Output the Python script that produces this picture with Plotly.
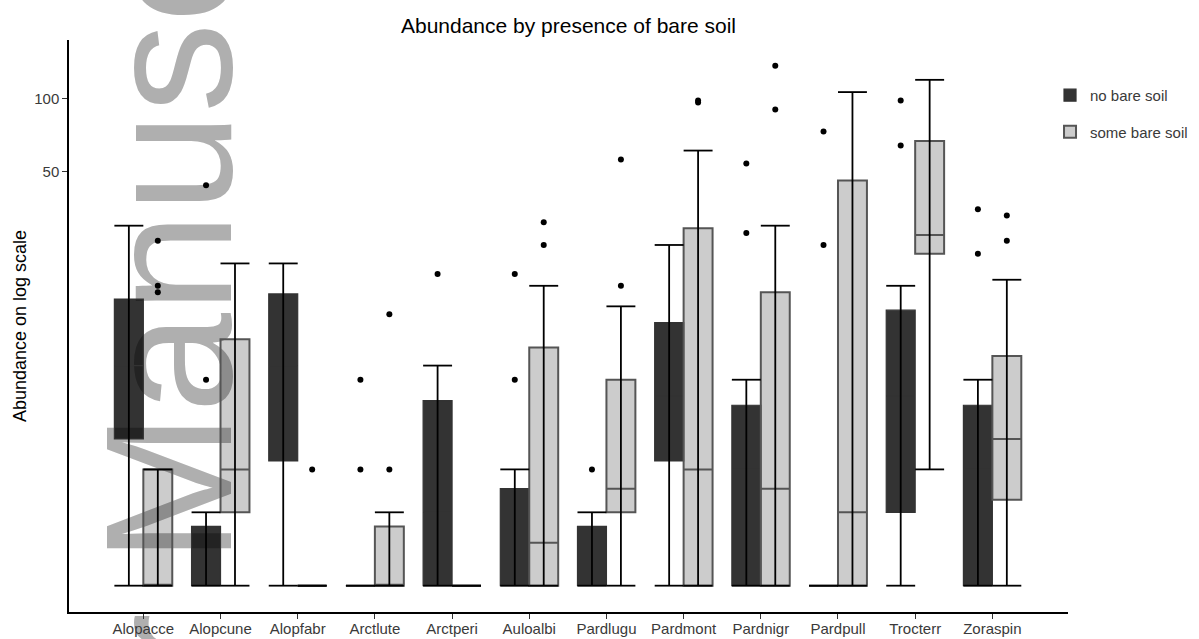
import plotly.graph_objects as go

categories = ["Alopacce", "Alopcune", "Alopfabr", "Arctlute", "Arctperi", "Auloalbi",
              "Pardlugu", "Pardmont", "Pardnigr", "Pardpull", "Trocterr", "Zoraspin"]

# group 1: no bare soil
nb_q1 = [4, 1, 3.25, 1, 1, 1, 1, 3.25, 1, 1, 2, 1]
nb_med = [8, 1, 8, 1, 2, 1, 1, 6, 3, 1, 6, 3]
nb_q3 = [15, 1.75, 15.75, 1, 5.75, 2.5, 1.75, 12, 5.5, 1, 13.5, 5.5]
nb_lo = [1, 1, 1, 1, 1, 1, 1, 1, 1, 1, 1, 1]
nb_hi = [30, 2, 21, 1, 8, 3, 2, 25, 7, 1, 17, 7]
nb_out = [[], [7, 44], [], [3, 7], [19], [7, 19], [3], [], [28, 54], [25, 73], [64, 98], [23, 35]]

# group 2: some bare soil
sb_q1 = [1, 2, 1, 1, 1, 1, 2, 1, 1, 1, 23, 2.25]
sb_med = [1, 3, 1, 1, 1, 1.5, 2.5, 3, 2.5, 2, 27.5, 4]
sb_q3 = [3, 10.25, 1, 1.75, 1, 9.5, 7, 29.25, 16, 46, 66.75, 8.75]
sb_lo = [1, 1, 1, 1, 1, 1, 1, 1, 1, 1, 3, 1]
sb_hi = [3, 21, 1, 2, 1, 17, 14, 61, 30, 106, 119, 18]
sb_out = [[16, 17, 26], [], [3], [3, 13], [], [25, 31], [17, 56], [96, 98], [90, 136], [], [], [26, 33]]

y_tick_vals = [50, 100]
y_tick_text = ["50", "100"]

FONT = "Liberation Sans, Arial, Helvetica, sans-serif"
DODGE = 0.1875
BW = 0.375

positions = list(range(1, len(categories) + 1))

fig = go.Figure()

groups = [
    ("no bare soil", -DODGE, nb_q1, nb_med, nb_q3, nb_lo, nb_hi, nb_out,
     "rgba(0,0,0,0.8)", "#333333", 1.2),
    ("some bare soil", DODGE, sb_q1, sb_med, sb_q3, sb_lo, sb_hi, sb_out,
     "rgba(0,0,0,0.2)", "#555555", 2.0),
]

for gi, (name, off, q1, med, q3, lo, hi, outs, fill, lcol, lw) in enumerate(groups):
    xs = [p + off for p in positions]
    fig.add_trace(go.Box(
        name=name, x=xs, q1=q1, median=med, q3=q3,
        lowerfence=q1, upperfence=q3, width=BW, whiskerwidth=0,
        fillcolor=fill, line=dict(color=lcol, width=lw),
        boxpoints=False, orientation="v", legendgroup=name,
        showlegend=True, hoverinfo="skip",
    ))

for gi, (name, off, q1, med, q3, lo, hi, outs, fill, lcol, lw) in enumerate(groups):
    ex, ey = [], []
    for p, l, h in zip(positions, lo, hi):
        x = p + off
        ex += [x - BW / 2, x + BW / 2, None, x, x, None, x - BW / 2, x + BW / 2, None]
        ey += [h, h, None, h, l, None, l, l, None]
    fig.add_trace(go.Scatter(x=ex, y=ey, mode="lines",
                             line=dict(color="black", width=1.8),
                             showlegend=False, hoverinfo="skip"))
    ox, oy = [], []
    for p, o in zip(positions, outs):
        for v in o:
            ox.append(p + off)
            oy.append(v)
    fig.add_trace(go.Scatter(x=ox, y=oy, mode="markers",
                             marker=dict(color="black", size=6),
                             showlegend=False, hoverinfo="skip"))

# watermark
fig.add_shape(type="rect", xref="paper", yref="paper",
              x0=0.078, x1=0.088, y0=0.343, y1=0.353,
              line=dict(width=0), fillcolor="rgba(0,0,0,0)", layer="below",
              label=dict(text="Author Manuscript", textangle=-90,
                         textposition="middle center",
                         font=dict(size=180, color="#AFAFAF", family=FONT)))

fig.update_layout(
    width=1199, height=639,
    margin=dict(l=69, r=131, t=40, b=27, autoexpand=False),
    paper_bgcolor="white", plot_bgcolor="white",
    font=dict(family=FONT, size=15, color="#3a3a3a"),
    title=dict(text="Abundance by presence of bare soil", x=0.5, xref="paper",
               y=1 - 26 / 639, yref="container", yanchor="middle",
               font=dict(size=21, color="black", family=FONT)),
    showlegend=True,
    legend=dict(xref="paper", yref="paper", x=0.982, y=0.932,
                xanchor="left", yanchor="top", tracegroupgap=14,
                font=dict(size=15, color="#3a3a3a"), itemwidth=30,
                bgcolor="rgba(0,0,0,0)"),
    xaxis=dict(range=[0.037, 12.98], tickmode="array", tickvals=positions,
               ticktext=categories, showline=True, linecolor="black", linewidth=1.5,
               ticks="outside", ticklen=5, tickcolor="#333333", tickwidth=1.2,
               ticklabelstandoff=-3,
               showgrid=False, zeroline=False, automargin=False,
               tickfont=dict(size=15, color="#3a3a3a")),
    yaxis=dict(type="log", range=[-0.108, 2.239], tickmode="array",
               tickvals=y_tick_vals, ticktext=y_tick_text,
               showline=True, linecolor="black", linewidth=1.5,
               ticks="outside", ticklen=5, tickcolor="#333333", tickwidth=1.2,
               showgrid=False, zeroline=False, automargin=False,
               tickfont=dict(size=15, color="#3a3a3a"),
               title=dict(text="Abundance on log scale", standoff=3,
                          font=dict(size=18, color="black"))),
)

fig.write_html("out.html")
